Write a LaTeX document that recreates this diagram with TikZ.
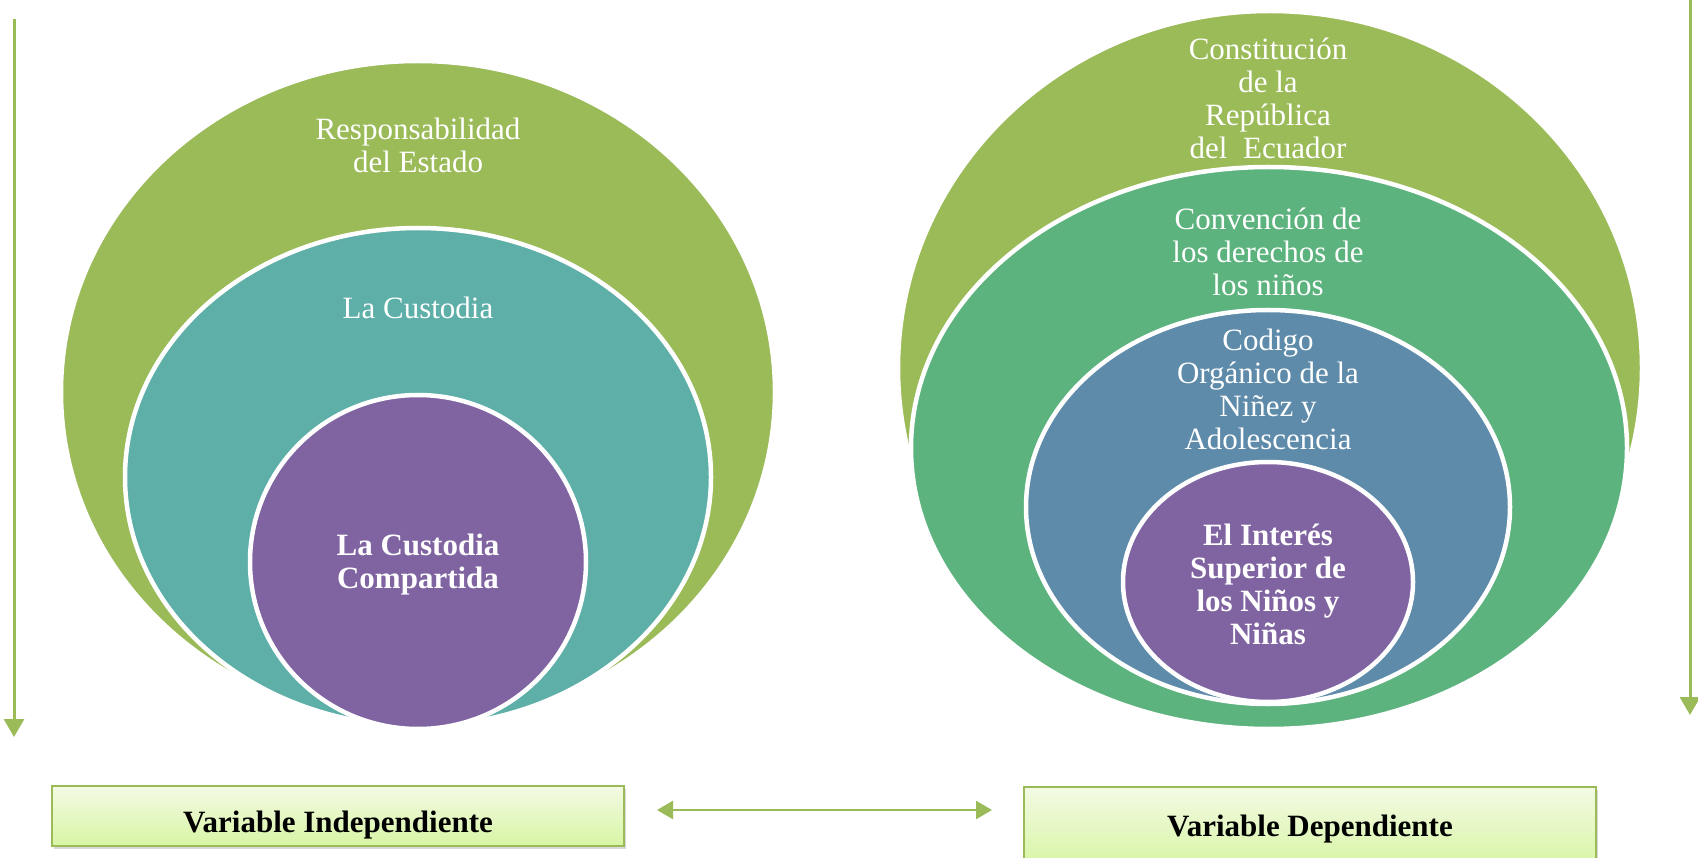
\documentclass[tikz,border=0pt]{standalone}
\usepackage{fontspec}
\setmainfont{Liberation Serif}
\usetikzlibrary{arrows.meta,shadows}
\definecolor{olivegreen}{HTML}{9BBB59}
\definecolor{tealgreen}{HTML}{5DAFA8}
\definecolor{sagegreen}{HTML}{5CB37E}
\definecolor{steelblue}{HTML}{5E8BAA}
\definecolor{lavender}{HTML}{8064A2}
\definecolor{boxtop}{HTML}{F3FAE4}
\definecolor{boxbottom}{HTML}{D8F5A4}
\tikzset{
  ring/.style={draw=white, line width=4.5pt},
  ringtext/.style={text=white, align=center, font=\fontsize{31}{33}\selectfont},
  coretext/.style={text=white, align=center, font=\fontsize{31}{33}\selectfont\bfseries},
  varbox/.style={draw=olivegreen, line width=1.5pt, top color=boxtop, bottom color=boxbottom,
    minimum width=572pt, font=\fontsize{31}{33}\selectfont\bfseries,
    drop shadow={opacity=0.3, shadow xshift=2pt, shadow yshift=-3pt}},
  varline/.style={olivegreen, line width=3pt, -{Triangle[length=18pt,width=20pt]}},
  varlink/.style={olivegreen, line width=2.5pt, {Triangle[length=16pt,width=18pt]}-{Triangle[length=16pt,width=18pt]}},
}
\begin{document}
\begin{tikzpicture}[x=1pt, y=-1pt]
  \useasboundingbox (0,0) rectangle (1698,858);
  % left target
  \draw[ring, fill=olivegreen] (418,392) ellipse (357 and 331);
  \draw[ring, fill=tealgreen] (418,477) ellipse (293 and 249);
  \draw[ring, fill=lavender] (418,562) ellipse (168 and 167);
  \node[ringtext] (txtEstado) at (418,145) {Responsabilidad\\del Estado};
  \node[ringtext] (txtCustodia) at (418,308) {La Custodia};
  \node[coretext] (txtCompartida) at (418,565) {La Custodia\\Compartida};
  % right target
  \draw[ring, fill=olivegreen] (1270,368) ellipse (372 and 357);
  \draw[ring, fill=sagegreen] (1269,448) ellipse (358 and 281);
  \draw[ring, fill=steelblue] (1268,507) ellipse (242 and 197);
  \draw[ring, fill=lavender] (1268,582) ellipse (145 and 120);
  \node[ringtext] (txtConstitucion) at (1268,98) {Constitución\\de la\\República\\del~ Ecuador};
  \node[ringtext] (txtConvencion) at (1268,252) {Convención de\\los derechos de\\los niños};
  \node[ringtext] (txtCodigo) at (1268,389) {Codigo\\Orgánico de la\\Niñez y\\Adolescencia};
  \node[coretext] (txtInteres) at (1268,584) {El Interés\\Superior de\\los Niños y\\Niñas};
  % variables
  \node[varbox, minimum height=60pt, text height=32pt, text depth=0pt] (boxIndep) at (338,816) {Variable Independiente};
  \node[varbox, minimum height=80pt, text height=26pt, text depth=7pt] (boxDep) at (1310,827) {Variable Dependiente};
  \coordinate (indepTop) at (14,19);
  \coordinate (indepEnd) at (14,737);
  \coordinate (depTop) at (1690,-5);
  \coordinate (depEnd) at (1690,715);
  \coordinate (linkL) at (657,810);
  \coordinate (linkR) at (992,810);
  \draw[varline] (indepTop) -- (indepEnd);
  \draw[varline] (depTop) -- (depEnd);
  \draw[varlink] (linkL) -- (linkR);
\end{tikzpicture}
\end{document}
